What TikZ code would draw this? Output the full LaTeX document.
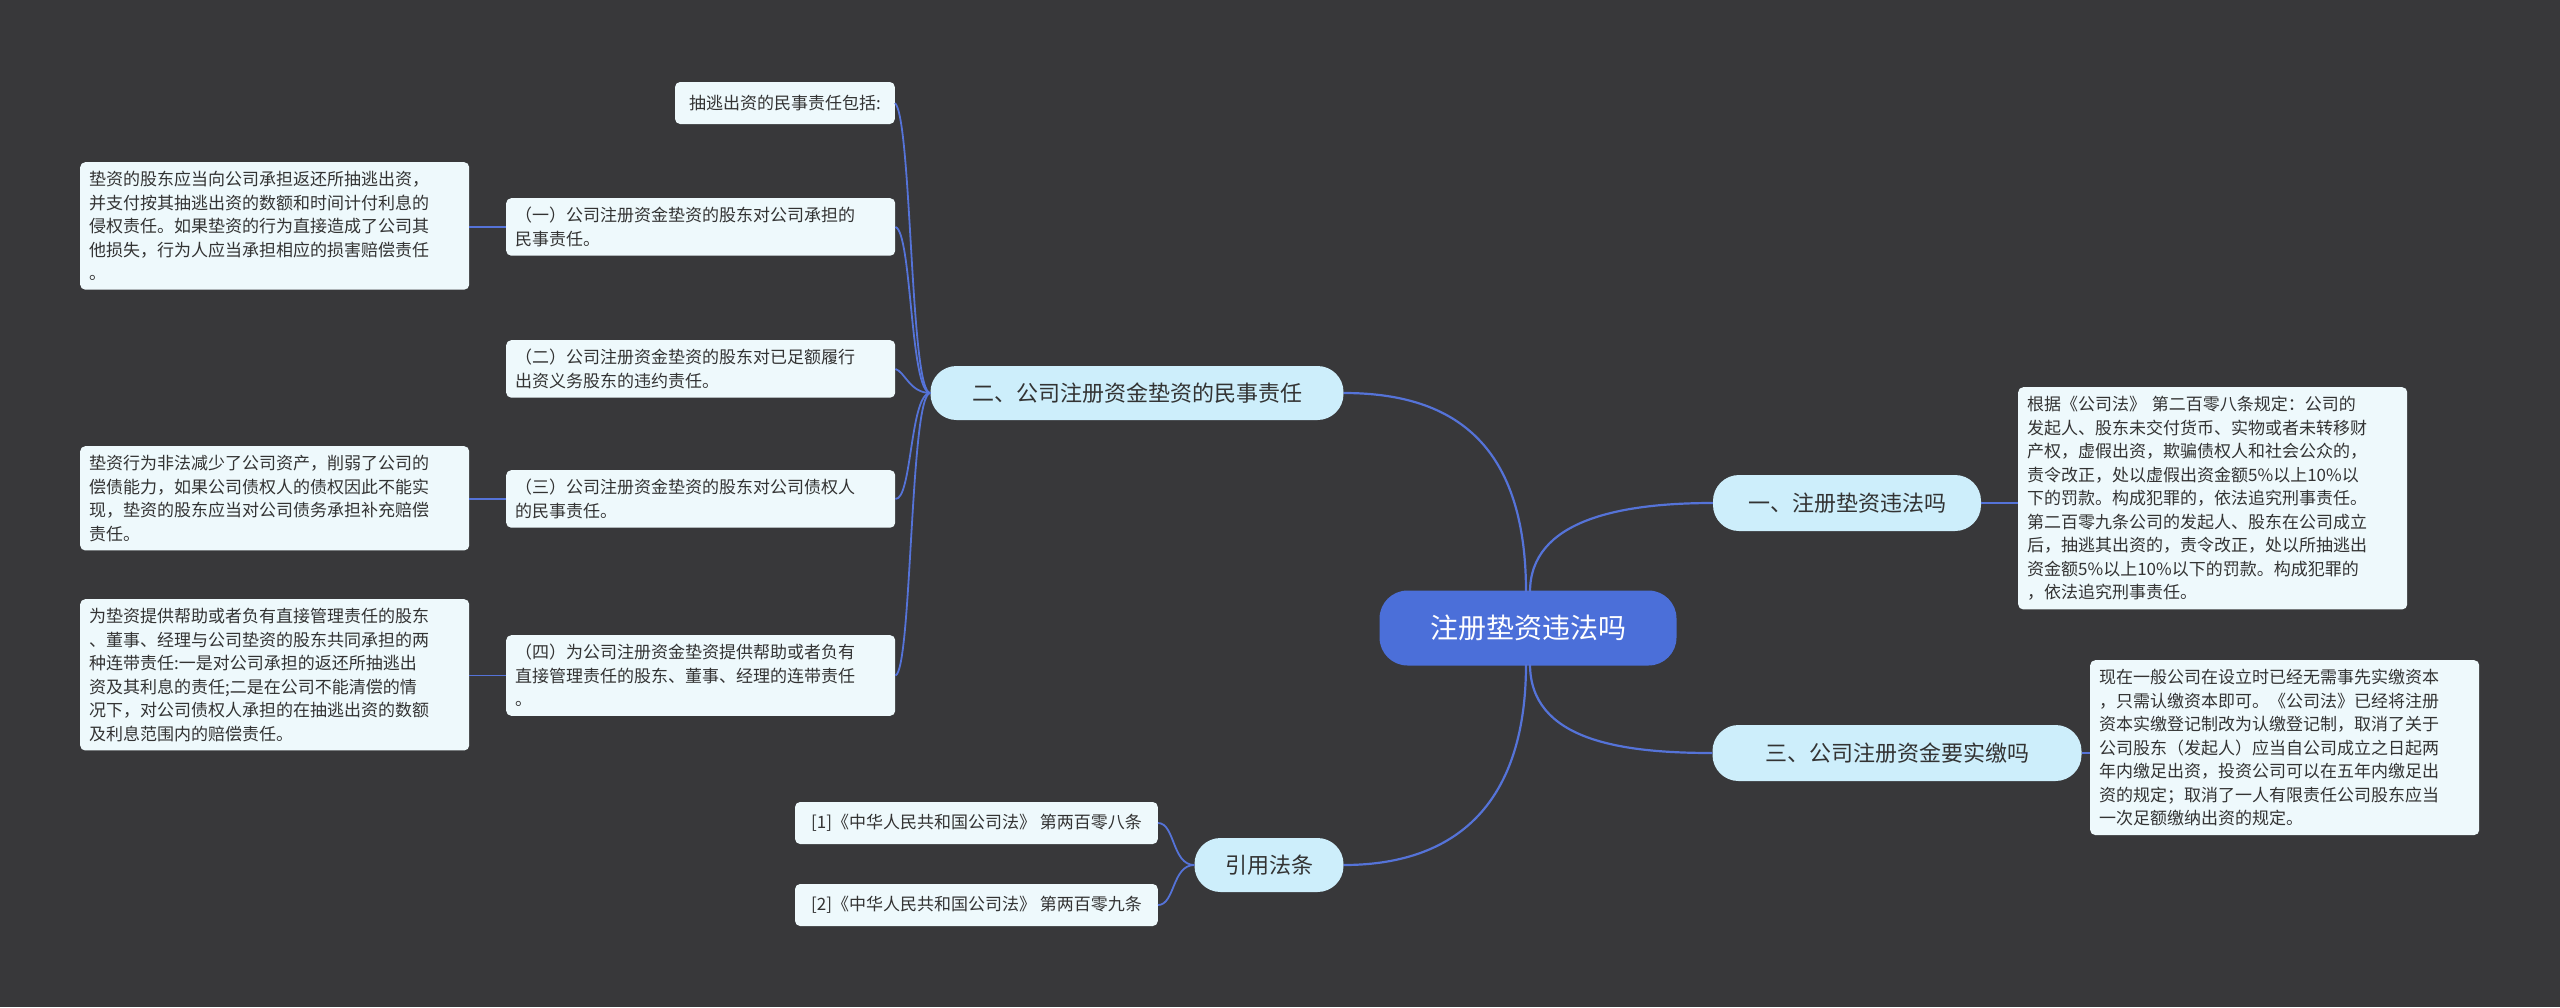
\documentclass[tikz,border=0pt]{standalone}
\usepackage{fontspec}
\setmainfont{Noto Sans CJK SC}
\begin{document}
\begin{tikzpicture}[x=1pt,y=-1pt,
  leaf/.style={draw=none,fill=leafbg,rounded corners=5pt,inner sep=9pt,align=left,font=\fontsize{17}{23.5}\selectfont,text=txt},
  br/.style={fill=brbg,rounded corners=26pt,inner sep=0pt,font=\fontsize{22}{26}\selectfont,text=txt},
  conn/.style={draw=lnk,line width=2.2pt},
  thin/.style={draw=lnk,line width=1.8pt}]
\definecolor{bg}{HTML}{38383A}
\definecolor{leafbg}{HTML}{EEF9FC}
\definecolor{brbg}{HTML}{CDEEFB}
\definecolor{txt}{HTML}{333333}
\definecolor{lnk}{HTML}{5573D8}
\definecolor{ctr}{HTML}{4B6FD9}
\fill[bg] (0,0) rectangle (2560,1007);
\useasboundingbox (0,0) rectangle (2560,1007);
% center
\node[fill=ctr,rounded corners=28pt,minimum width=297pt,minimum height=75pt,text=white,font=\fontsize{28}{32}\selectfont] (c) at (1528,628) {注册垫资违法吗};
% branches
\node[br,minimum width=268pt,minimum height=56pt] (b1) at (1847,503) {一、注册垫资违法吗};
\node[br,minimum width=369pt,minimum height=56pt] (b3) at (1897,753) {三、公司注册资金要实缴吗};
\node[br,minimum width=413pt,minimum height=54pt] (b2) at (1137,393) {二、公司注册资金垫资的民事责任};
\node[br,minimum width=149pt,minimum height=54pt] (b4) at (1269,865) {引用法条};
% right leaves
\node[leaf,anchor=north west,text width=371pt] (r1) at (2018,387) {根据《公司法》 第二百零八条规定：公司的\\发起人、股东未交付货币、实物或者未转移财\\产权，虚假出资，欺骗债权人和社会公众的，\\责令改正，处以虚假出资金额5\%以上10\%以\\下的罚款。构成犯罪的，依法追究刑事责任。\\第二百零九条公司的发起人、股东在公司成立\\后，抽逃其出资的，责令改正，处以所抽逃出\\资金额5\%以上10\%以下的罚款。构成犯罪的\\，依法追究刑事责任。};
\node[leaf,anchor=north west,text width=371pt] (r2) at (2090,660) {现在一般公司在设立时已经无需事先实缴资本\\，只需认缴资本即可。《公司法》已经将注册\\资本实缴登记制改为认缴登记制，取消了关于\\公司股东（发起人）应当自公司成立之日起两\\年内缴足出资，投资公司可以在五年内缴足出\\资的规定；取消了一人有限责任公司股东应当\\一次足额缴纳出资的规定。};
% left leaves of b2
\node[leaf,anchor=east,minimum height=42pt,inner xsep=14pt] (a0) at (895,103) {抽逃出资的民事责任包括:};
\node[leaf,anchor=north west,text width=371pt] (a1) at (506,198) {（一）公司注册资金垫资的股东对公司承担的\\民事责任。};
\node[leaf,anchor=north west,text width=371pt] (a2) at (506,340) {（二）公司注册资金垫资的股东对已足额履行\\出资义务股东的违约责任。};
\node[leaf,anchor=north west,text width=371pt] (a3) at (506,470) {（三）公司注册资金垫资的股东对公司债权人\\的民事责任。};
\node[leaf,anchor=north west,text width=371pt] (a4) at (506,635) {（四）为公司注册资金垫资提供帮助或者负有\\直接管理责任的股东、董事、经理的连带责任\\。};
\node[leaf,anchor=north west,text width=371pt] (f1) at (80,162) {垫资的股东应当向公司承担返还所抽逃出资，\\并支付按其抽逃出资的数额和时间计付利息的\\侵权责任。如果垫资的行为直接造成了公司其\\他损失，行为人应当承担相应的损害赔偿责任\\。};
\node[leaf,anchor=north west,text width=371pt] (f2) at (80,446) {垫资行为非法减少了公司资产，削弱了公司的\\偿债能力，如果公司债权人的债权因此不能实\\现，垫资的股东应当对公司债务承担补充赔偿\\责任。};
\node[leaf,anchor=north west,text width=371pt] (f3) at (80,599) {为垫资提供帮助或者负有直接管理责任的股东\\、董事、经理与公司垫资的股东共同承担的两\\种连带责任:一是对公司承担的返还所抽逃出\\资及其利息的责任;二是在公司不能清偿的情\\况下，对公司债权人承担的在抽逃出资的数额\\及利息范围内的赔偿责任。};
% refs
\node[leaf,anchor=east,minimum height=42pt,inner xsep=16pt] (g1) at (1158,823) {[1]《中华人民共和国公司法》 第两百零八条};
\node[leaf,anchor=east,minimum height=42pt,inner xsep=16pt] (g2) at (1158,905) {[2]《中华人民共和国公司法》 第两百零九条};
% connectors center
\draw[conn] (1530,592) .. controls (1530,520) and (1620,503) .. (b1.west);
\draw[conn] (1530,664) .. controls (1530,740) and (1620,753) .. (b3.west);
\draw[conn] (1526,592) .. controls (1526,440) and (1450,393) .. (b2.east);
\draw[conn] (1526,664) .. controls (1526,810) and (1450,865) .. (b4.east);
\draw[conn] (b1.east) -- (r1.west |- b1.east);
\draw[conn] (b3.east) -- (r2.west |- b3.east);
% b2 to leaves
\draw[thin] (b2.west) .. controls (910,393) and (912,120) .. (a0.east);
\draw[thin] (b2.west) .. controls (910,393) and (912,232) .. (a1.east);
\draw[thin] (b2.west) .. controls (910,393) and (905,372) .. (a2.east);
\draw[thin] (b2.west) .. controls (910,393) and (912,500) .. (a3.east);
\draw[thin] (b2.west) .. controls (910,393) and (912,670) .. (a4.east);
\draw[thin] (a1.west) -- (f1.east |- a1.west);
\draw[thin] (a3.west) -- (f2.east |- a3.west);
\draw[thin] (a4.west) -- (f3.east |- a4.west);
\draw[thin] (b4.west) .. controls (1172,865) and (1175,823) .. (g1.east);
\draw[thin] (b4.west) .. controls (1172,865) and (1175,905) .. (g2.east);
\end{tikzpicture}
\end{document}
